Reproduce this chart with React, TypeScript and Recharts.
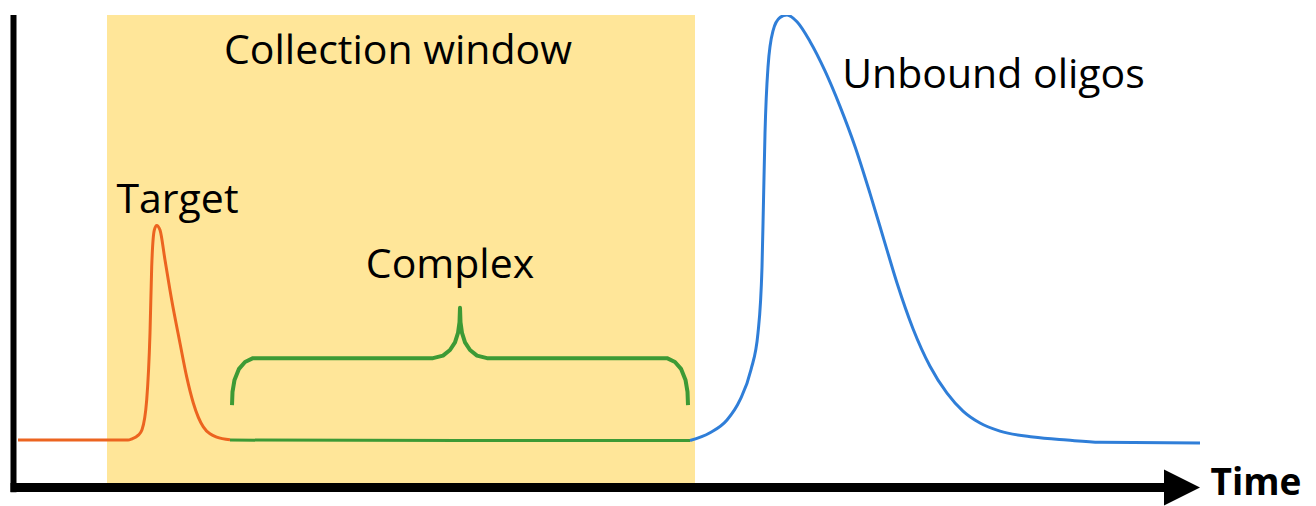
import React from 'react';
import { ComposedChart, Line, XAxis, YAxis, ReferenceArea, ReferenceLine, ReferenceDot } from 'recharts';

// elution time (arbitrary units) vs. detector signal (% of largest peak)
const targetPeak: [number, number][] = [
  [18, 0.4], [128, 0.4], [132, 0.7], [138, 1.5], [142, 2.8], [146.7, 9.8], [150, 25.5],
  [151.7, 41], [154.3, 49.6], [156.7, 50.7], [160, 49.6], [165, 42.6], [171.7, 33.2],
  [180, 23.1], [186.7, 15.2], [193.3, 9.1], [203.3, 3.5], [216.7, 1.1], [230, 0.5],
];

const complexTrace: [number, number][] = [
  [230, 0.4], [460, 0.3], [690, 0.3],
];

const unboundPeak: [number, number][] = [
  [690, 0.3], [710, 2.1], [727, 5.1], [740, 9.8], [751, 16.9], [758, 25.5], [762, 40.9],
  [763.5, 56.4], [765, 72.3], [768, 87.8], [773, 96.3], [780, 99.4], [787, 100], [797, 98.4],
  [810, 93.8], [825, 86.9], [840, 78.6], [855, 69.2], [870, 58.2], [885, 46.5], [897, 37.2],
  [913, 26.5], [930, 17.7], [947, 11.4], [963, 7.2], [980, 4.4], [1000, 2.5], [1033, 1.1],
  [1067, 0.4], [1100, -0.1], [1200, -0.3],
];

// curly brace spanning the complex elution range
const complexBrace: [number, number][] = [
  [232, 8.6], [232.5, 11.7], [234.5, 14.5], [239, 17.1], [245, 18.7], [253, 19.6], [433, 19.6],
  [443, 20.2], [450, 21.5], [455, 23.3], [458, 25.5], [459.5, 28], [460, 31.4], [460.5, 28],
  [462, 25.5], [465, 23.3], [470, 21.5], [477, 20.2], [487, 19.6], [667, 19.6], [675, 18.7],
  [681, 17.1], [685.5, 14.5], [687.5, 11.7], [688, 8.6],
];

const collectionWindow = [107, 695];
const timeRange = [0, 1316];
const signalRange = [-12, 100];
const axisLevel = -10.7;

const toPoints = (rows: [number, number][]) => rows.map(([t, v]) => ({ t, v }));

const FONT = "'Open Sans', sans-serif";

const ArrowHead = (props: any) => {
  const { x1, y1, x2, y2 } = props;
  return <polygon points={`${x1},${y1 - 18} ${x2},${y2} ${x1},${y1 + 18}`} fill="#000" />;
};

const textLabel = (value: string, size: number, bold = false) => ({
  value,
  position: 'center' as const,
  fill: '#000',
  fontSize: size,
  fontFamily: FONT,
  fontWeight: bold ? 700 : 400,
});

export default function App() {
  return (
    <div style={{ position: 'absolute', left: 0, top: 0, background: '#fff' }}>
      <ComposedChart width={1316} height={506} margin={{ top: 15, right: 0, bottom: 13, left: 0 }}>
        <XAxis type="number" dataKey="t" domain={timeRange} hide allowDataOverflow />
        <YAxis type="number" dataKey="v" domain={signalRange} hide allowDataOverflow />
        <ReferenceArea
          x1={collectionWindow[0]}
          x2={collectionWindow[1]}
          y1={axisLevel}
          y2={100}
          fill="#FFE699"
          fillOpacity={1}
          stroke="none"
        />
        <Line data={toPoints(complexTrace)} dataKey="v" type="linear" stroke="#3D9A35" strokeWidth={3} dot={false} isAnimationActive={false} />
        <Line data={toPoints(complexBrace)} dataKey="v" type="linear" stroke="#3D9A35" strokeWidth={4} strokeLinejoin="round" dot={false} isAnimationActive={false} />
        <Line data={toPoints(targetPeak)} dataKey="v" type="monotone" stroke="#EC6420" strokeWidth={3} dot={false} isAnimationActive={false} />
        <Line data={toPoints(unboundPeak)} dataKey="v" type="monotone" stroke="#2F7ED8" strokeWidth={3} dot={false} isAnimationActive={false} />
        <ReferenceLine segment={[{ x: 13.5, y: -11.8 }, { x: 13.5, y: 100 }]} stroke="#000" strokeWidth={6} ifOverflow="visible" />
        <ReferenceLine segment={[{ x: 10.5, y: axisLevel }, { x: 1170, y: axisLevel }]} stroke="#000" strokeWidth={9} ifOverflow="visible" />
        <ReferenceLine segment={[{ x: 1164, y: axisLevel }, { x: 1200, y: axisLevel }]} shape={ArrowHead} ifOverflow="visible" />
        <ReferenceDot x={398} y={92} r={0} fill="none" stroke="none" label={textLabel('Collection window', 41)} />
        <ReferenceDot x={177.5} y={56.9} r={0} fill="none" stroke="none" label={textLabel('Target', 41)} />
        <ReferenceDot x={450} y={41.8} r={0} fill="none" stroke="none" label={textLabel('Complex', 41)} />
        <ReferenceDot x={993.5} y={86.2} r={0} fill="none" stroke="none" label={textLabel('Unbound oligos', 41)} />
        <ReferenceDot x={1256} y={-9.4} r={0} fill="none" stroke="none" label={textLabel('Time', 37, true)} ifOverflow="visible" />
      </ComposedChart>
    </div>
  );
}
